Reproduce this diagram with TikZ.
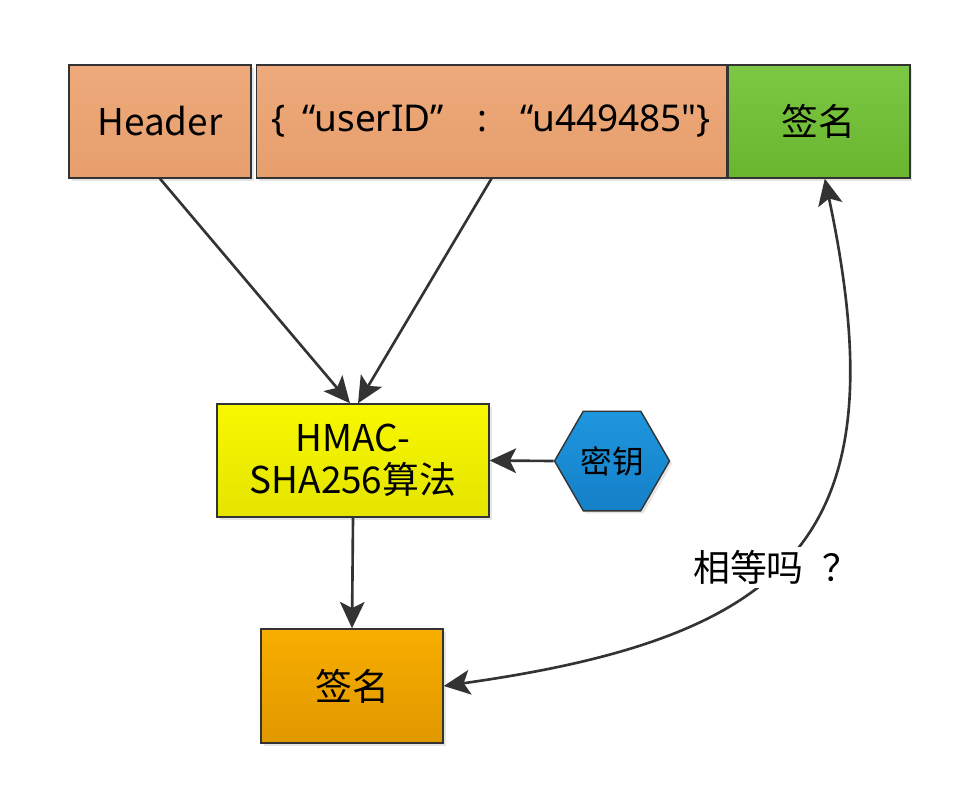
\documentclass[tikz,border=0pt]{standalone}
\usepackage{fontspec}
\setmainfont{Noto Sans CJK SC}
\newfontfamily\latinfont{Noto Sans}
\usepackage{tikz}
\usetikzlibrary{positioning, shapes.geometric, arrows.meta, shadows}

\definecolor{tan}{HTML}{EEAA7C}
\definecolor{tandark}{HTML}{E69E6C}
\definecolor{leaf}{HTML}{7CC844}
\definecolor{leafdark}{HTML}{6AB52E}
\definecolor{lemon}{HTML}{F8F800}
\definecolor{lemondark}{HTML}{E4E400}
\definecolor{amber}{HTML}{F8AE00}
\definecolor{amberdark}{HTML}{E09800}
\definecolor{sky}{HTML}{1E96DE}
\definecolor{skydark}{HTML}{1580C8}
\definecolor{ink}{HTML}{333333}

\begin{document}
\begin{tikzpicture}[
    part/.style={draw=ink, line width=0.8pt, rectangle, minimum height=2.26cm, inner sep=0pt, font=\fontsize{21}{25}\selectfont,
                 drop shadow={shadow xshift=1.5pt, shadow yshift=-1.5pt, fill=black!20}},
    algo/.style={part, minimum width=5.44cm, align=center, top color=lemon, bottom color=lemondark},
    keynode/.style={draw=ink, line width=0.8pt, regular polygon, regular polygon sides=6, minimum size=2.3cm, inner sep=0pt,
                 top color=sky, bottom color=skydark, font=\fontsize{18}{21}\selectfont,
                 drop shadow={shadow xshift=1.5pt, shadow yshift=-1.5pt, fill=black!20}},
    edge/.style={draw=ink, line width=1.5pt, -{Stealth[length=15pt, width=14pt, inset=3.5pt]}}
]

\useasboundingbox (0,0) rectangle (19.32,-16.2);

% Zeile oben
\node[part, minimum width=3.64cm, top color=tan, bottom color=tandark] (header) at (3.2,-2.43) {Header};
\node[part, minimum width=9.4cm, top color=tan, bottom color=tandark, right=0.08cm of header] (payload)
    {\latinfont\fontsize{21}{25}\selectfont\{\hspace{0.45em}“userID”\hspace{0.9em}:\hspace{0.9em}“u449485"\}};
\node[part, minimum width=3.64cm, top color=leaf, bottom color=leafdark, right=0pt of payload] (sig) {签名};

% Algorithmus
\node[algo] (hmac) at (7.06,-9.21) {HMAC-\\[-1pt]SHA256算法};
\node[keynode] (key) at (12.24,-9.22) {密钥};
\node[part, minimum width=3.64cm, minimum height=2.28cm, top color=amber, bottom color=amberdark] (newsig) at (7.04,-13.72) {签名};

% Kanten
\draw[edge] (header.south) -- ([xshift=-0.06cm]hmac.north);
\draw[edge] (payload.south) -- ([xshift=0.1cm]hmac.north);
\draw[edge] (key.west) -- (hmac.east);
\draw[edge] (hmac.south) -- (newsig.north);
\draw[edge, {Stealth[length=15pt, width=14pt, inset=3.5pt]}-{Stealth[length=15pt, width=14pt, inset=3.5pt]}]
    (newsig.east) to[out=8, in=-78, looseness=1.45]
    node[pos=0.45, fill=white, inner sep=2pt, font=\fontsize{21}{25}\selectfont] (ask) {相等吗\hspace{0.5em}？}
    ([xshift=0.12cm]sig.south);

\end{tikzpicture}
\end{document}
